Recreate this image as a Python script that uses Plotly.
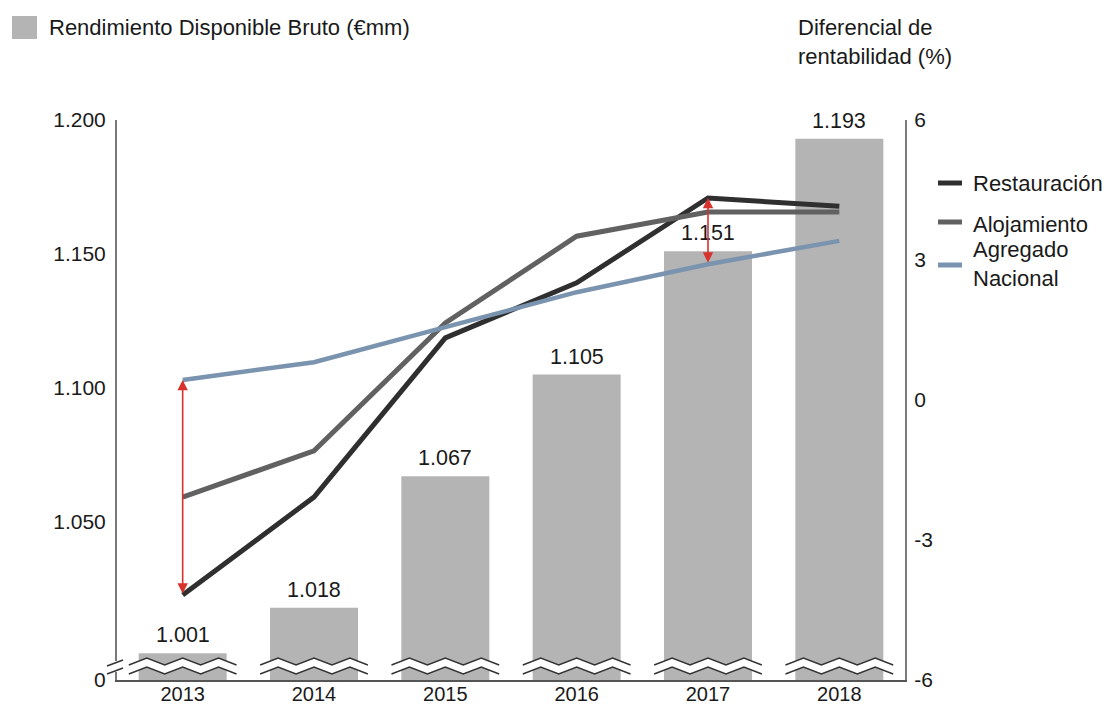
import plotly.graph_objects as go

# ---------------- data ----------------
years = [2013, 2014, 2015, 2016, 2017, 2018]
rdb = [1001, 1018, 1067, 1105, 1151, 1193]          # Rendimiento Disponible Bruto (€mm)
restauracion = [-4.18, -2.08, 1.33, 2.51, 4.33, 4.15]
alojamiento = [-2.08, -1.09, 1.65, 3.51, 4.03, 4.03]
agregado = [0.43, 0.81, 1.56, 2.31, 2.91, 3.41]

left_ticks = [1050, 1100, 1150, 1200]
right_ticks = [-6, -3, 0, 3, 6]
arrow_pairs = [(2013, agregado[0], restauracion[0]), (2017, restauracion[4], agregado[4])]

# ---------------- layout constants ----------------
W, H = 1107, 706
L, R, T, B = 117, 202, 120, 26
PW, PH = W - L - R, H - T - B
y_range = [991.0, 1200.0]
FONT = "Liberation Sans, Arial, sans-serif"
TXT = "#1a1a1a"


def px(x):  # pixel x -> paper x
    return (x - L) / PW


def py(y):  # pixel y -> paper y
    return (H - B - y) / PH


def fmt(v):
    return f"{v:,}".replace(",", ".")


fig = go.Figure()

fig.add_trace(go.Bar(
    x=years, y=rdb, marker=dict(color="#b4b4b4", line=dict(width=0)), width=0.67,
    showlegend=False, yaxis="y", hoverinfo="x+y",
))

line_specs = [
    (restauracion, "#2f2f2f", 5),
    (alojamiento, "#616161", 5),
    (agregado, "#7a94b0", 4.5),
]
for vals, col, w in line_specs:
    fig.add_trace(go.Scatter(x=years, y=vals, mode="lines", line=dict(color=col, width=w),
                             yaxis="y2", showlegend=False))

shapes = []
# zigzag axis-break marks over each bar
hw = 0.41
n_seg = 6
for yr in years:
    xs = [yr - hw + 2 * hw * i / n_seg for i in range(n_seg + 1)]
    up = [py(665) if i % 2 == 0 else py(658) for i in range(n_seg + 1)]
    lo = [py(674) if i % 2 == 0 else py(667) for i in range(n_seg + 1)]
    poly = "M " + " L ".join(f"{x},{y}" for x, y in zip(xs, up))
    poly += " L " + " L ".join(f"{x},{y}" for x, y in zip(xs[::-1], lo[::-1])) + " Z"
    shapes.append(dict(type="path", path=poly, xref="x", yref="paper", fillcolor="white",
                       line=dict(width=0), layer="above"))
    for arr in (up, lo):
        p = "M " + " L ".join(f"{x},{y}" for x, y in zip(xs, arr))
        shapes.append(dict(type="path", path=p, xref="x", yref="paper",
                           line=dict(color="#333333", width=1.5), layer="above"))

# break on the left axis
shapes.append(dict(type="rect", xref="paper", yref="paper", x0=px(114), x1=px(120),
                   y0=py(672), y1=py(661), fillcolor="white", line=dict(width=0), layer="above"))
for a, b in ((666, 660), (674, 668)):
    shapes.append(dict(type="line", xref="paper", yref="paper", x0=px(107), x1=px(123),
                       y0=py(a), y1=py(b), line=dict(color="#333333", width=1.5), layer="above"))

# legend swatches
shapes.append(dict(type="rect", xref="paper", yref="paper", x0=px(12), x1=px(37),
                   y0=py(39), y1=py(16), fillcolor="#b4b4b4", line=dict(width=0)))
for yy, (vals, col, w) in zip((183, 222, 265), line_specs):
    shapes.append(dict(type="line", xref="paper", yref="paper", x0=px(938), x1=px(962),
                       y0=py(yy), y1=py(yy), line=dict(color=col, width=5)))

AF = dict(size=22, color=TXT, family=FONT)
annotations = [
    dict(text="Rendimiento Disponible Bruto (€mm)", x=px(47), y=py(28), xref="paper", yref="paper",
         xanchor="left", yanchor="middle", showarrow=False, font=AF),
    dict(text="Diferencial de<br>rentabilidad (%)", x=px(796), y=py(42), xref="paper", yref="paper",
         xanchor="left", yanchor="middle", align="left", showarrow=False, font=AF),
    dict(text="Restauración", x=px(971), y=py(183), xref="paper", yref="paper",
         xanchor="left", yanchor="middle", showarrow=False, font=AF),
    dict(text="Alojamiento", x=px(971), y=py(224), xref="paper", yref="paper",
         xanchor="left", yanchor="middle", showarrow=False, font=AF),
    dict(text="Agregado<br>Nacional", x=px(971), y=py(264), xref="paper", yref="paper",
         xanchor="left", yanchor="middle", align="left", showarrow=False, font=AF),
]
# bar value labels
for yr, v in zip(years, rdb):
    annotations.append(dict(text=fmt(v), x=yr, y=v, xref="x", yref="y", xanchor="center",
                            yanchor="bottom", yshift=4, showarrow=False,
                            font=dict(size=21.5, color=TXT, family=FONT)))
# red difference arrows
for xx, y_head, y_tail in arrow_pairs:
    annotations.append(dict(x=xx, y=y_head, ax=xx, ay=y_tail, xref="x", yref="y2", axref="x", ayref="y2",
                            text="", showarrow=True, arrowside="end+start", arrowhead=2, startarrowhead=2,
                            arrowsize=1.3, startarrowsize=1.3, arrowwidth=1.6, arrowcolor="#d8322c",
                            standoff=0, startstandoff=0))

fig.update_layout(
    width=W, height=H, margin=dict(l=L, r=R, t=T, b=B, autoexpand=False),
    paper_bgcolor="white", plot_bgcolor="white", separators=",.",
    font=dict(family=FONT, size=21, color=TXT),
    showlegend=False,
    xaxis=dict(range=[2012.5, 2018.5], tickvals=years, ticktext=[str(y) for y in years],
               showgrid=False, zeroline=False, showline=True, linecolor="#555555", linewidth=2,
               ticks="", ticklabelstandoff=-5, tickfont=dict(size=20, color=TXT), automargin=False),
    yaxis=dict(range=y_range, tickvals=[y_range[0]] + left_ticks,
               ticktext=["0"] + [fmt(v) for v in left_ticks],
               showgrid=False, zeroline=False, showline=True, linecolor="#7a7a7a", linewidth=2,
               ticks="", ticklabelstandoff=5, tickfont=dict(size=21, color=TXT), automargin=False),
    yaxis2=dict(range=[-6, 6], tickvals=right_ticks, ticktext=[str(v) for v in right_ticks],
                overlaying="y", side="right", showgrid=False, zeroline=False, showline=True,
                linecolor="#7a7a7a", linewidth=2, ticks="", ticklabelstandoff=3,
                tickfont=dict(size=21, color=TXT), automargin=False),
    shapes=shapes, annotations=annotations,
)

fig.write_html("out.html")
